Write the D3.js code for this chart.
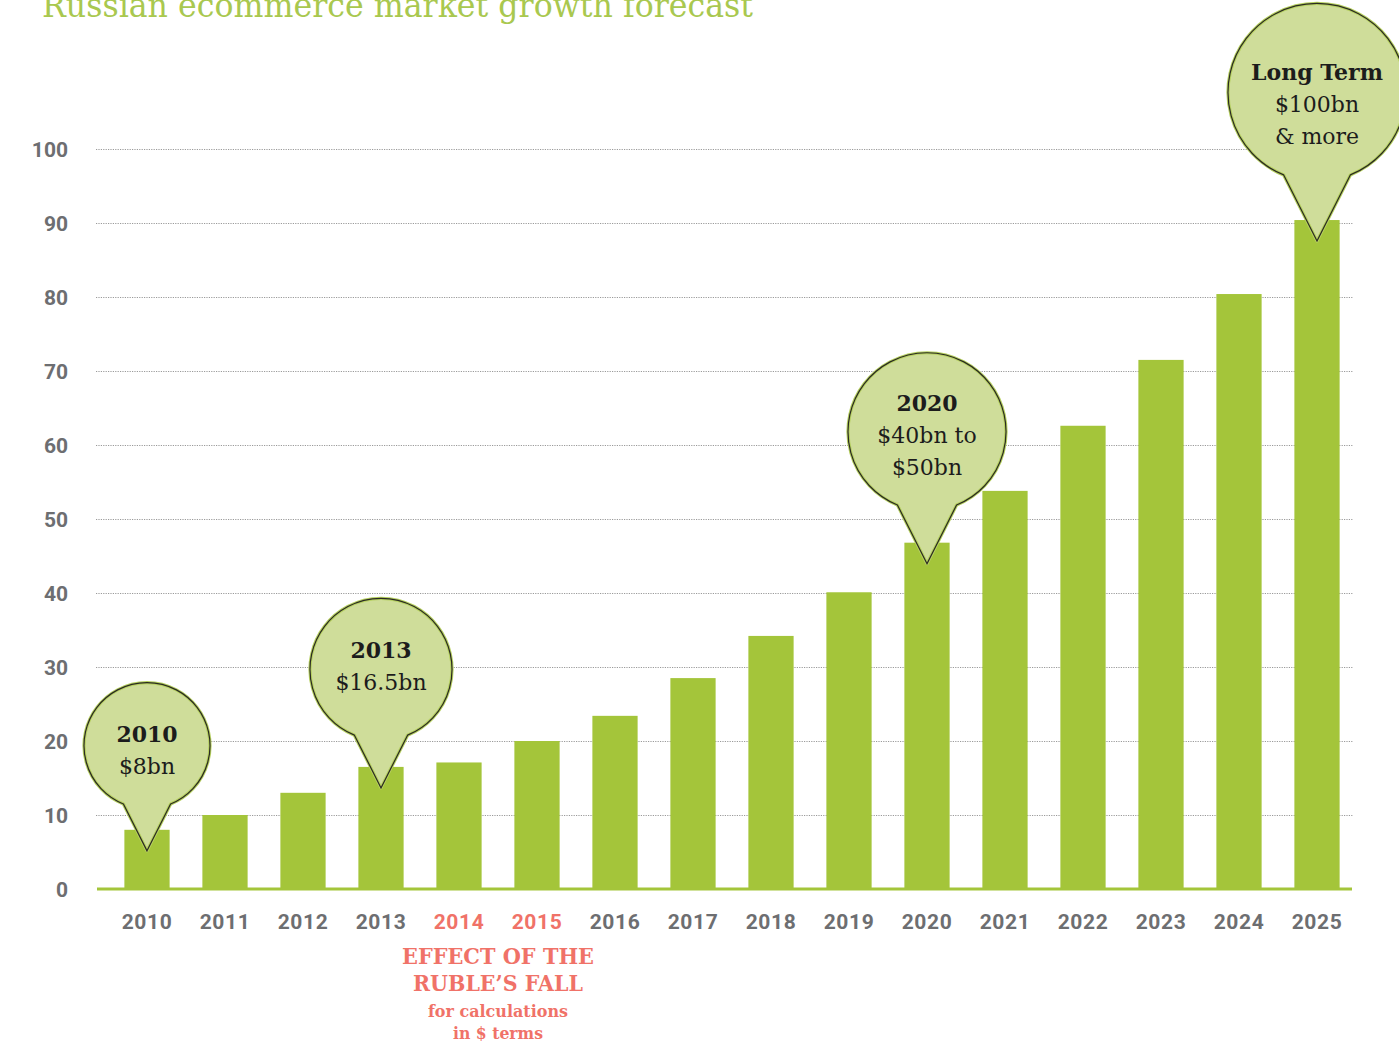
<!DOCTYPE html>
<html>
<head>
<meta charset="utf-8">
<script src="https://cdn.jsdelivr.net/npm/d3@7"></script>
<style>
  html, body { margin: 0; padding: 0; background: #ffffff; }
  svg { display: block; }
</style>
</head>
<body>
<svg id="chart" width="1399" height="1043"></svg>
<script>
// Market size, $bn per year
const years = ["2010","2011","2012","2013","2014","2015","2016","2017","2018","2019","2020","2021","2022","2023","2024","2025"];
const values = [8, 10, 13, 16.5, 17.1, 20, 23.4, 28.5, 34.2, 40.1, 46.8, 53.8, 62.6, 71.5, 80.4, 90.4];
const yTicks = [0, 10, 20, 30, 40, 50, 60, 70, 80, 90, 100];
const highlightYears = ["2014", "2015"];

// Callout bubbles: anchored year, bold heading, following lines
const calloutYears = ["2010", "2013", "2020", "2025"];
const calloutHeads = ["2010", "2013", "2020", "Long Term"];
const calloutLines = [["$8bn"], ["$16.5bn"], ["$40bn to", "$50bn"], ["$100bn", "& more"]];

const titleText = "Russian ecommerce market growth forecast";
const noteHeading = ["EFFECT OF THE", "RUBLE\u2019S FALL"];
const noteSub = ["for calculations", "in $ terms"];

// ---- layout ----
const svg = d3.select("#chart");
const green = "#a4c53a";
const bubbleFill = "#cfdd9a";
const grey = "#6d6e71";
const salmon = "#f07268";
const serif = "'DejaVu Serif', serif";
const sans = "Roboto, 'Liberation Sans', sans-serif";

const x = d3.scaleBand().domain(years).range([108, 1356]).paddingInner(0.42).paddingOuter(0.21);
const y = d3.scaleLinear().domain([0, 100]).range([889, 149]);

// Title (sits partly above the canvas edge)
svg.append("text")
  .attr("x", 42).attr("y", 17)
  .attr("font-family", serif)
  .attr("font-size", 33)
  .attr("font-weight", 300)
  .attr("fill", "#a9c84f")
  .attr("textLength", 711)
  .attr("lengthAdjust", "spacingAndGlyphs")
  .text(titleText);

// Dotted gridlines
svg.append("g").selectAll("line")
  .data(yTicks.filter(d => d > 0))
  .join("line")
  .attr("x1", 96).attr("x2", 1353)
  .attr("y1", d => Math.round(y(d)) + 0.5).attr("y2", d => Math.round(y(d)) + 0.5)
  .attr("stroke", "#9a9a9a")
  .attr("stroke-width", 1)
  .attr("stroke-dasharray", "1.2,1.2");

// Y axis labels
const yAxis = d3.axisLeft(y).tickValues(yTicks).tickSize(0).tickPadding(0);
const gy = svg.append("g").attr("transform", "translate(68,0)").call(yAxis);
gy.select(".domain").remove();
gy.selectAll("text")
  .attr("font-family", sans)
  .attr("font-weight", 700)
  .attr("font-size", 21)
  .attr("fill", grey)
  .attr("dy", "0.36em");

// Bars
svg.append("g").selectAll("rect")
  .data(years.map((yr, i) => ({ yr, v: values[i] })))
  .join("rect")
  .attr("x", d => x(d.yr))
  .attr("width", x.bandwidth())
  .attr("y", d => y(d.v))
  .attr("height", d => y(0) - y(d.v))
  .attr("fill", green);

// Baseline
svg.append("line")
  .attr("x1", 97).attr("x2", 1352)
  .attr("y1", y(0)).attr("y2", y(0))
  .attr("stroke", green)
  .attr("stroke-width", 3);

// X axis labels
const xAxis = d3.axisBottom(x).tickSize(0).tickPadding(0);
const gx = svg.append("g").attr("transform", "translate(0,921)").call(xAxis);
gx.select(".domain").remove();
gx.selectAll("text")
  .attr("font-family", sans)
  .attr("font-weight", 700)
  .attr("font-size", 21)
  .attr("letter-spacing", 0.6)
  .attr("dy", "0.36em")
  .attr("fill", d => highlightYears.includes(d) ? salmon : grey);

// Note under the highlighted years
const noteX = (x("2014") + x("2015") + x.bandwidth()) / 2;
const note = svg.append("g").attr("font-family", serif).attr("font-weight", 700).attr("fill", salmon).attr("text-anchor", "middle");
const headWidths = [192, 170];
noteHeading.forEach((t, i) => {
  note.append("text")
    .attr("x", noteX).attr("y", 964 + i * 27)
    .attr("font-size", 22)
    .attr("textLength", headWidths[i])
    .attr("lengthAdjust", "spacingAndGlyphs")
    .text(t);
});
const subWidths = [140, 90];
noteSub.forEach((t, i) => {
  note.append("text")
    .attr("x", noteX).attr("y", 1017 + i * 22)
    .attr("font-size", 16)
    .attr("textLength", subWidths[i])
    .attr("lengthAdjust", "spacingAndGlyphs")
    .text(t);
});

// Callout bubbles (circle with a pointer to the bar top)
const bubbleRadius = [63, 71, 79, 89];
const textShift = [-12, -19, -29, -20];
const tipInset = 21;
const tipRatio = 1.67;
const halfAngle = 22 * Math.PI / 180;

calloutYears.forEach((yr, i) => {
  const v = values[years.indexOf(yr)];
  const cx = x(yr) + x.bandwidth() / 2;
  const tipY = y(v) + tipInset;
  const r = bubbleRadius[i];
  const cy = tipY - tipRatio * r;
  const sx = r * Math.sin(halfAngle), sy = r * Math.cos(halfAngle);
  const path = `M${cx},${tipY} L${cx + sx},${cy + sy} A${r},${r} 0 1 0 ${cx - sx},${cy + sy} Z`;
  const g = svg.append("g");
  g.append("path").attr("d", path).attr("fill", bubbleFill).attr("stroke", "#b5cf5e").attr("stroke-width", 3.2).attr("stroke-linejoin", "round");
  g.append("path").attr("d", path).attr("fill", "none").attr("stroke", "#2a2a22").attr("stroke-width", 1.2).attr("stroke-linejoin", "miter");
  const lines = [calloutHeads[i]].concat(calloutLines[i]);
  lines.forEach((t, j) => {
    g.append("text")
      .attr("x", cx)
      .attr("y", cy + textShift[i] + j * 32)
      .attr("dy", "0.36em")
      .attr("text-anchor", "middle")
      .attr("font-family", serif)
      .attr("font-size", 22)
      .attr("font-weight", j === 0 ? 700 : 400)
      .attr("fill", "#1c1c1c")
      .text(t);
  });
});
</script>
</body>
</html>
